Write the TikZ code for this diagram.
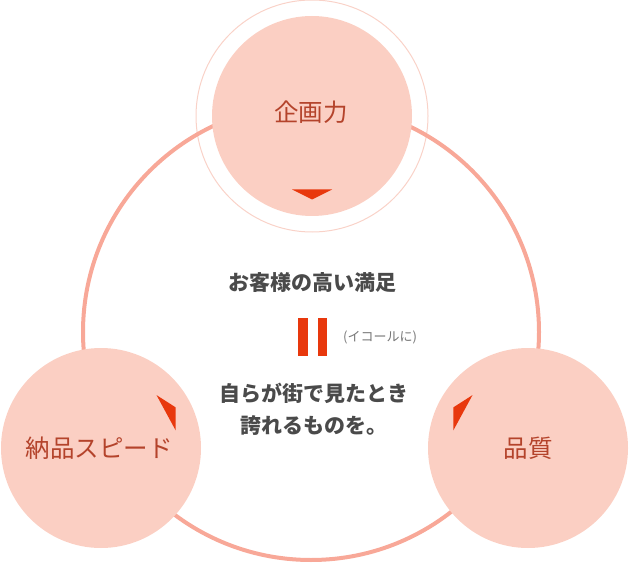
\documentclass[tikz,border=0pt]{standalone}
\usepackage{fontspec}
\newfontfamily\cjk{Noto Sans CJK JP}
\definecolor{circfill}{HTML}{FBCFC3}
\definecolor{bigline}{HTML}{F8A898}
\definecolor{ringline}{HTML}{F9D2C8}
\definecolor{accent}{HTML}{E8380D}
\definecolor{labelred}{HTML}{B4432B}
\definecolor{maintext}{HTML}{4A4A4A}
\definecolor{subtext}{HTML}{777777}
\tikzset{
  bubble/.style={circle, fill=circfill, minimum size=200pt, inner sep=0pt},
  bubblelabel/.style={font=\cjk\fontsize{24.5pt}{27pt}\selectfont, text=labelred, inner sep=0pt},
  mainline/.style={font=\cjk\bfseries\fontsize{21pt}{24pt}\selectfont, text=maintext, inner sep=0pt},
  marker/.style={fill=accent, draw=none},
}
\begin{document}
\begin{tikzpicture}[x=1pt,y=-1pt]
\useasboundingbox (0,0) rectangle (629,564);
% thin outer ring of the top bubble
\draw[ringline, line width=1pt] (312,116) circle[radius=116];
% big cycle circle
\node[circle, draw=bigline, line width=4pt, minimum size=456pt, inner sep=0pt] (cycle) at (311,332) {};
% bubbles
\node[bubble] (plan) at (312,116) {};
\node[bubble] (speed) at (101,448) {};
\node[bubble] (quality) at (528,448) {};
\node[bubblelabel] (planL) at (311,112) {企画力};
\node[bubblelabel] (speedL) at (99,448) {納品スピード};
\node[bubblelabel] (qualityL) at (528,448) {品質};
% direction markers
\fill[marker] (292,189.5) -- (332,189.5) -- (312,199.5) -- cycle;
\fill[marker] (156.5,395.1) -- (175.7,407.4) -- (175.6,430.3) -- cycle;
\fill[marker] (472.5,395.1) -- (453.3,407.4) -- (453.4,430.3) -- cycle;
% centre text
\node[mainline] (satis) at (312,283) {お客様の高い満足};
\fill[accent] (298,318) rectangle (307.5,356);
\fill[accent] (317.5,318) rectangle (327,356);
\node[font=\cjk\fontsize{13pt}{15pt}\selectfont, text=subtext, inner sep=0pt] (equal) at (380,337) {(イコールに)};
\node[mainline, align=center, font=\cjk\bfseries\fontsize{21pt}{32pt}\selectfont] (pride) at (314,409) {自らが街で見たとき\\誇れるものを。};
\end{tikzpicture}
\end{document}
